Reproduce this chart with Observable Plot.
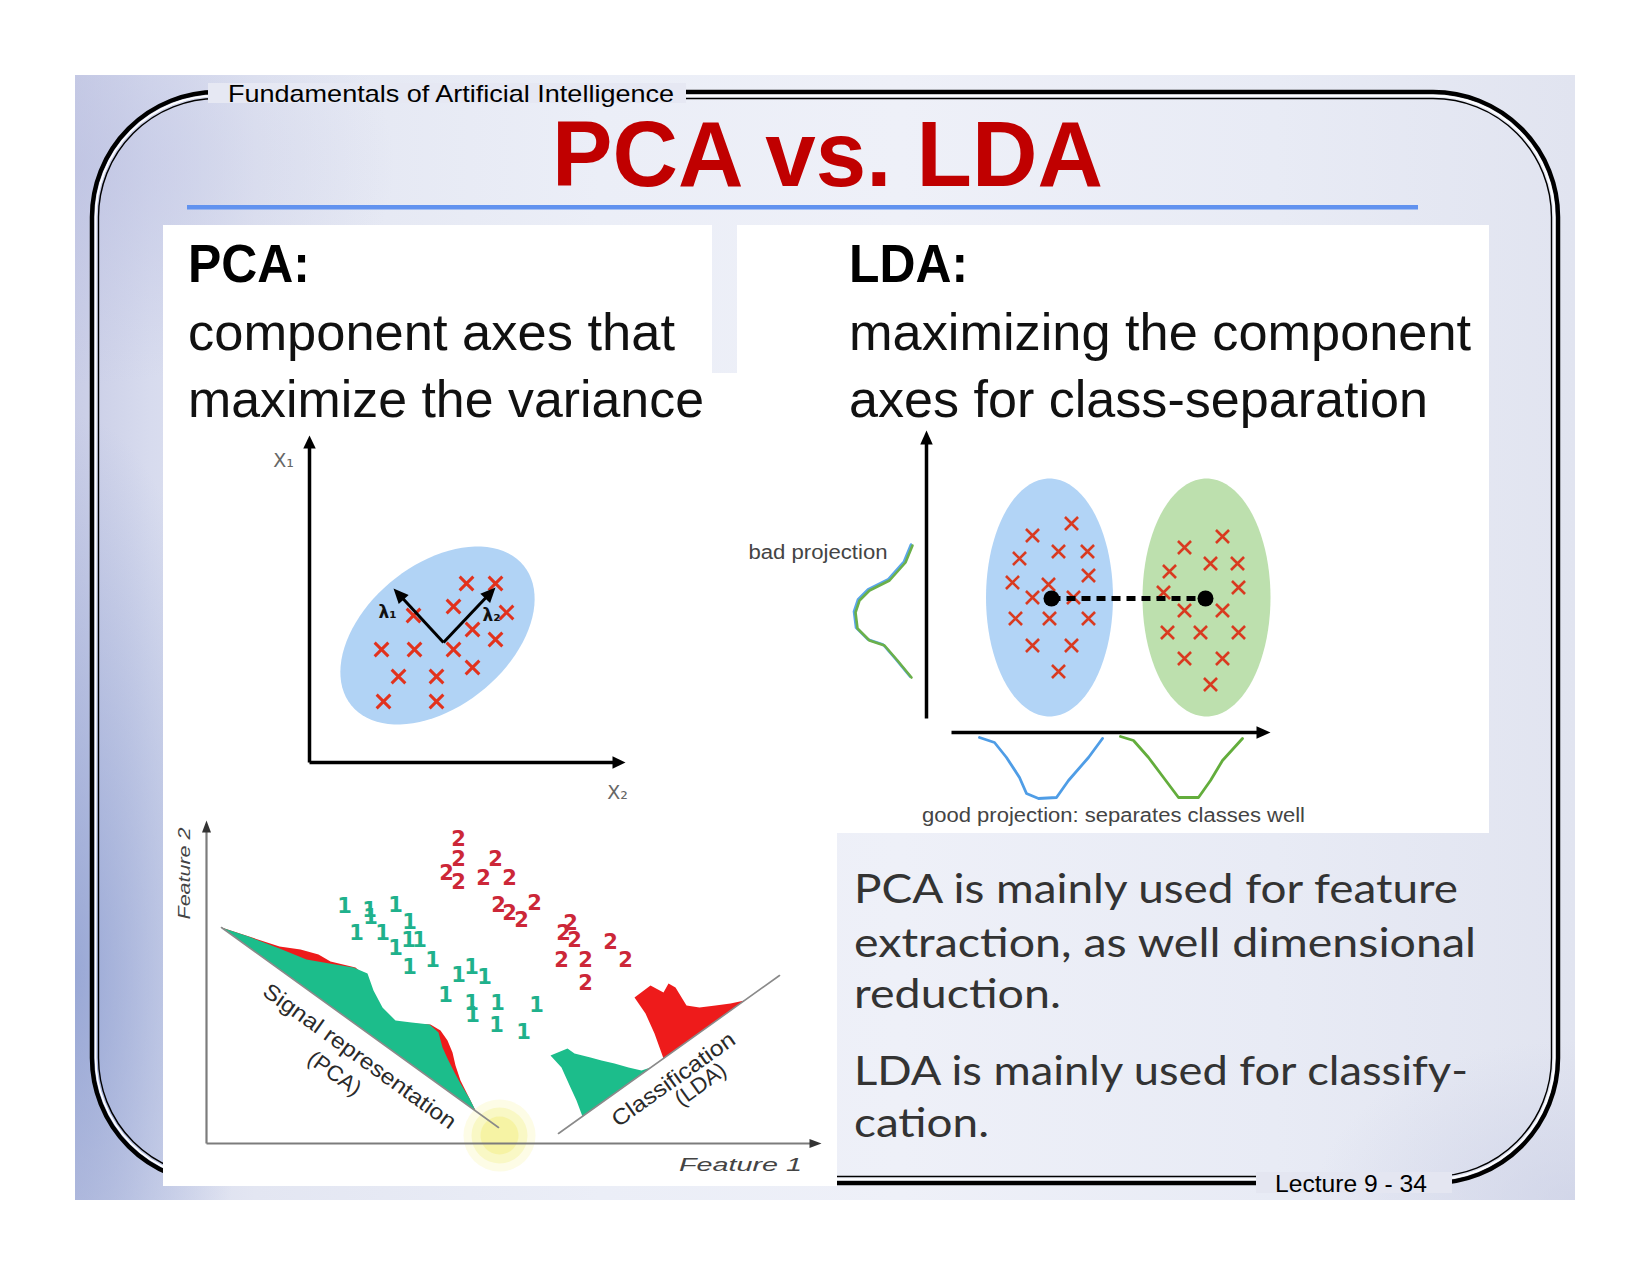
<!DOCTYPE html>
<html>
<head>
<meta charset="utf-8">
<script src="https://cdn.jsdelivr.net/npm/d3@7"></script>
<script src="https://cdn.jsdelivr.net/npm/@observablehq/plot@0.6"></script>
<style>
  html, body { margin:0; padding:0; background:#ffffff; }
  #page { position:relative; width:1650px; height:1275px; overflow:hidden; background:#ffffff; }
  #slide { position:absolute; left:75px; top:75px; width:1500px; height:1125px;
    background:
      radial-gradient(ellipse 170px 560px at 0% 80%, rgba(138,156,208,0.75), rgba(138,156,208,0) 100%),
      radial-gradient(ellipse 320px 220px at 0% 8%, rgba(188,193,226,0.6), rgba(188,193,226,0) 100%),
      radial-gradient(ellipse 260px 160px at 100% 100%, rgba(200,205,228,0.6), rgba(200,205,228,0) 100%),
      linear-gradient(90deg, #c9cde6 0%, #d7dbee 5%, #e3e6f2 12%, #ebeef7 35%, #eef0f8 55%, #e8ebf5 80%, #e1e4f0 100%); }
  .panel { position:absolute; background:#ffffff; }
  .layer { position:absolute; left:0; top:0; }
</style>
</head>
<body>
<div id="page"><div id="slide"></div></div>
<script>
// ===================== DATA =====================
// --- PCA sketch: samples in (x2, x1) units, origin at the axes corner
const pcaSamples = [[15.7,17.9],[18.6,17.9],[14.4,15.6],[19.7,15.0],[10.4,14.7],[16.3,13.3],[18.6,12.3],
  [7.2,11.3],[10.5,11.3],[14.4,11.3],[8.9,8.6],[12.7,8.6],[16.3,9.5],[7.4,6.1],[12.7,6.1]];
const pcaCloud = {cx:12.8, cy:12.7, rx:11.1, ry:7.1, angle:39};
const pcaOrigin = [13.4, 12.0];
const pcaComponentNames = ["λ₁", "λ₂"];
const pcaComponentTips = [[8.4,17.4],[18.6,17.5]];
const pcaComponentLabelPos = [[7.8,15.0],[18.2,14.7]];
const pcaAxisEnds = [[31.6,0],[0,32.7]];
const pcaAxisNames = ["X₂", "X₁"];
const pcaAxisNamePos = [[30.8,-3.0],[-2.6,30.2]];

// --- LDA sketch
const ldaClassA = [[14.5,20.9],[10.6,19.7],[13.2,18.1],[16.1,18.1],[9.3,17.4],[16.2,15.7],[8.6,15.0],[12.2,14.8],
  [10.6,13.5],[14.7,13.5],[8.9,11.4],[12.3,11.4],[16.2,11.4],[10.6,8.7],[14.5,8.7],[13.2,6.1]];
const ldaClassB = [[29.6,19.6],[25.8,18.5],[28.4,16.9],[31.1,16.9],[24.3,16.1],[31.2,14.5],[23.7,14.0],[25.8,12.2],
  [29.6,12.2],[24.1,10.0],[27.4,10.0],[31.2,10.0],[25.8,7.4],[29.6,7.4],[28.4,4.8]];
const ldaClouds = [{cx:12.3, cy:13.5, rx:6.35, ry:11.9, angle:0}, {cx:28.0, cy:13.5, rx:6.4, ry:11.9, angle:0}];
const ldaMeans = [[12.5,13.4],[27.9,13.4]];
const ldaYAxis = [[0,1.4],[0,30.2]];
const ldaXAxis = [[2.5,0],[34.4,0]];
const badProjection = [[-1.4,18.7],[-2.1,17.0],[-3.7,15.2],[-5.7,14.2],[-6.7,13.2],[-7.1,12.0],[-6.9,10.4],
  [-5.7,9.2],[-4.2,8.7],[-2.9,7.2],[-1.5,5.5]];
const goodProjectionA = [[5.3,-0.5],[6.8,-1.0],[8.0,-2.5],[9.3,-4.5],[10.0,-6.1],[11.2,-6.6],[13.0,-6.5],
  [14.2,-4.8],[16.2,-2.5],[17.6,-0.6]];
const goodProjectionB = [[19.4,-0.4],[20.7,-0.8],[22.2,-2.5],[23.7,-4.5],[25.2,-6.5],[27.2,-6.5],[28.4,-4.8],
  [29.6,-2.8],[31.6,-0.6]];
const ldaTexts = ["bad projection", "good projection: separates classes well"];
const ldaTextPos = [[-3.9,18.0],[18.7,-8.3]];

// --- Feature 1 / Feature 2 figure
const featureOnes = [[13.8,23.7],[16.3,23.3],[18.9,23.8],[16.4,22.6],[20.3,22.1],[15.0,21.0],[17.6,21.0],
  [20.2,20.3],[21.3,20.3],[18.9,19.5],[20.3,17.6],[22.6,18.3],[25.2,16.8],[26.5,17.6],[27.8,16.6],
  [23.9,14.8],[26.5,14.0],[29.1,14.0],[33.0,13.8],[26.6,12.8],[29.0,11.8],[31.7,11.1]];
const featureTwos = [[25.2,30.4],[25.2,28.4],[28.9,28.4],[24.0,27.0],[25.2,26.1],[27.7,26.5],[30.3,26.5],
  [29.2,23.8],[30.3,23.0],[31.5,22.3],[32.8,24.0],[36.4,22.0],[35.7,21.0],[36.8,20.3],[40.4,20.1],
  [35.5,18.3],[37.9,18.3],[41.9,18.3],[37.9,16.0]];
const pcaDirection = [[1.5,21.6],[29.2,1.6]];
const ldaDirection = [[35.2,1.0],[57.3,16.8]];
const pcaDensity1 = [[1.5,21.6],[4.2,20.7],[7.3,19.5],[10.0,18.4],[12.3,18.0],[14.7,17.6],[16.1,17.0],[16.7,15.3],
  [17.6,13.6],[18.9,12.3],[20.5,12.1],[22.3,11.9],[23.2,11.1],[23.6,9.6],[24.1,8.5],[24.8,7.1],[25.4,6.0],
  [26.3,4.5],[26.9,3.3]];
const pcaDensity2 = [[1.5,21.6],[7.3,19.7],[9.4,19.4],[11.2,18.9],[12.4,18.2],[14.9,17.6],[15.8,16.8],[16.0,15.3],
  [16.4,13.8],[17.2,12.8],[18.6,12.1],[22.4,11.9],[23.4,11.3],[24.1,10.3],[24.6,9.1],[24.9,7.8],[25.4,6.3],
  [26.4,4.3],[26.9,3.3]];
const ldaDensity1 = [[34.4,8.8],[36.1,9.5],[36.8,9.0],[38.4,8.6],[39.5,8.3],[40.8,8.0],[42.2,7.6],[43.5,7.3],
  [44.4,7.6],[37.6,2.7],[37.0,4.3],[36.4,5.6],[35.5,7.6]];
const ldaDensity2 = [[42.8,14.6],[44.4,15.8],[45.7,15.1],[46.2,16.0],[46.9,15.6],[48.0,13.8],[49.3,13.6],
  [50.9,13.8],[52.4,14.0],[53.8,14.3],[45.7,8.5],[44.8,11.0],[43.9,13.0]];
const featureAxisEnds = [[61.5,0],[0,32.3]];
const featureAxisNames = ["Feature 1", "Feature 2"];
const featureAxisNamePos = [[53.4,-2.2],[-2.2,27.0]];
const featureLabels = ["Signal representation", "(PCA)", "Classification", "(LDA)"];
const featureLabelPos = [[15.3,8.7],[12.8,7.0],[46.7,6.4],[49.4,5.9]];
const featureLabelAngle = [35.8, 35.8, -35.6, -35.6];
const pointerSpot = [29.3, 0.8];

// --- slide texts
const slideText = ["Fundamentals of Artificial Intelligence", "PCA vs. LDA", "PCA:", "component axes that",
  "maximize the variance", "LDA:", "maximizing the component", "axes for class-separation",
  "PCA is mainly used for feature", "extraction, as well dimensional", "reduction.",
  "LDA is mainly used for classify-", "cation.", "Lecture 9 - 34"];

// ===================== LAYOUT / STYLE =====================
const W = 1650, H = 1275;
const SANS = "'Liberation Sans', Arial, Helvetica, sans-serif";
const BODY = "Lato, 'Open Sans', sans-serif";
const slideTextLayout = [
  {x:228, y:102, size:24, len:446, fill:"#000", weight:400, family:SANS},
  {x:552, y:186, size:92, len:551, fill:"#c00000", weight:700, family:SANS},
  {x:188, y:282, size:54, len:122, fill:"#000", weight:700, family:SANS},
  {x:188, y:350, size:52, len:487, fill:"#111", weight:400, family:SANS},
  {x:188, y:417, size:52, len:516, fill:"#111", weight:400, family:SANS},
  {x:849, y:282, size:54, len:119, fill:"#000", weight:700, family:SANS},
  {x:849, y:350, size:52, len:622, fill:"#111", weight:400, family:SANS},
  {x:849, y:417, size:52, len:579, fill:"#111", weight:400, family:SANS},
  {x:854, y:903, size:41, len:604, fill:"#333", weight:400, family:BODY},
  {x:854, y:957, size:41, len:622, fill:"#333", weight:400, family:BODY},
  {x:854, y:1008, size:41, len:207, fill:"#333", weight:400, family:BODY},
  {x:854, y:1085, size:41, len:614, fill:"#333", weight:400, family:BODY},
  {x:854, y:1137, size:41, len:135, fill:"#333", weight:400, family:BODY},
  {x:1275, y:1192, size:24, len:152, fill:"#000", weight:400, family:SANS}
];

const page = document.getElementById("page");

// ---- frame (decoration)
const frame = d3.create("svg").attr("class","layer").attr("width",W).attr("height",H);
frame.append("rect").attr("x",92).attr("y",92).attr("width",1466).attr("height",1091).attr("rx",125)
  .attr("fill","none").attr("stroke","#000").attr("stroke-width",4.5);
frame.append("rect").attr("x",95.6).attr("y",95.6).attr("width",1458.8).attr("height",1083.8).attr("rx",121.4)
  .attr("fill","none").attr("stroke","#fff").attr("stroke-width",1.8);
frame.append("rect").attr("x",98.5).attr("y",98.5).attr("width",1453).attr("height",1078).attr("rx",118.5)
  .attr("fill","none").attr("stroke","#000").attr("stroke-width",1.4);
frame.append("rect").attr("x",208).attr("y",83).attr("width",478).attr("height",20).attr("fill","#e6e8f3");
frame.append("rect").attr("x",1256).attr("y",1172).attr("width",196).attr("height",21).attr("fill","#e4e6f1");
page.append(frame.node());

// ---- white image panels
[[163,225,549,590],[712,373,26,440],[163,810,674,376],[737,225,752,608]].forEach(([l,t,w,h]) => {
  const d = document.createElement("div");
  d.className = "panel";
  Object.assign(d.style, {left:l+"px", top:t+"px", width:w+"px", height:h+"px"});
  page.append(d);
});

// ---- helpers
const P = d => ({x: d[0], y: d[1]});
function ellipsePoints(c, n = 90) {
  const a = c.angle * Math.PI / 180;
  return d3.range(n + 1).map(i => {
    const t = 2 * Math.PI * i / n, ex = c.rx * Math.cos(t), ey = c.ry * Math.sin(t);
    return {x: c.cx + ex * Math.cos(a) - ey * Math.sin(a), y: c.cy + ex * Math.sin(a) + ey * Math.cos(a)};
  });
}
function arrowParts(from, to, headLen, headWid, id) {
  const dx = to[0] - from[0], dy = to[1] - from[1], L = Math.hypot(dx, dy);
  const ux = dx / L, uy = dy / L, bx = to[0] - ux * headLen, by = to[1] - uy * headLen;
  const px = -uy * headWid / 2, py = ux * headWid / 2;
  return {
    shaft: {x1: from[0], y1: from[1], x2: to[0] - ux * headLen * 0.6, y2: to[1] - uy * headLen * 0.6},
    head: [{id, x: to[0], y: to[1]}, {id, x: bx + px, y: by + py}, {id, x: bx - px, y: by - py}, {id, x: to[0], y: to[1]}]
  };
}
function arrowMarks(list, stroke, strokeWidth, fill) {
  return [
    Plot.link(list.map(a => a.shaft), {x1:"x1", y1:"y1", x2:"x2", y2:"y2", stroke, strokeWidth, strokeLinecap:"butt"}),
    Plot.line(list.flatMap(a => a.head), {x:"x", y:"y", z:"id", fill, stroke:"none"})
  ];
}
function place(svg, left, top) {
  svg.style.position = "absolute";
  svg.style.left = left + "px";
  svg.style.top = top + "px";
  page.append(svg);
  return svg;
}
function fitTexts(svg, lengths) {
  svg.querySelectorAll("text").forEach(t => {
    const k = t.textContent;
    if (lengths[k]) { t.setAttribute("textLength", lengths[k]); t.setAttribute("lengthAdjust", "spacingAndGlyphs"); }
  });
}
function base(width, height, xd, yd, marks) {
  return Plot.plot({
    width, height, marginTop:0, marginRight:0, marginBottom:0, marginLeft:0,
    x: {domain: xd, axis: null}, y: {domain: yd, axis: null},
    style: {background:"transparent", overflow:"visible", fontFamily: SANS},
    marks
  });
}

// ---- PCA sketch
{
  const axes = pcaAxisEnds.map((e, i) => arrowParts([0,0], e, 1.3, 1.25, "a" + i));
  const comps = pcaComponentTips.map((t, i) => arrowParts(pcaOrigin, t, 1.5, 1.35, "c" + i));
  const svg = base(520, 390, [-15.4, 36.6], [-4.8, 34.2], [
    Plot.line(ellipsePoints(pcaCloud), {x:"x", y:"y", fill:"#b1d3f5", stroke:"none"}),
    Plot.dot(pcaSamples, {x: d => d[0], y: d => d[1], symbol:"times", r:6.3, stroke:"#e2321d", strokeWidth:3}),
    ...arrowMarks(comps, "#000", 3, "#000"),
    ...arrowMarks(axes, "#000", 3.5, "#000"),
    Plot.text(pcaComponentNames, {x: (d, i) => pcaComponentLabelPos[i][0], y: (d, i) => pcaComponentLabelPos[i][1],
      text: d => d, fontSize: 17, fontWeight: "bold", fill: "#111", fontFamily: "'DejaVu Sans', sans-serif"}),
    Plot.text(pcaAxisNames, {x: (d, i) => pcaAxisNamePos[i][0], y: (d, i) => pcaAxisNamePos[i][1],
      text: d => d, fontSize: 19, fill: "#666", fontFamily: "'DejaVu Sans', sans-serif"})
  ]);
  place(svg, 155, 420);
}

// ---- LDA sketch
{
  const axes = [arrowParts(ldaXAxis[0], ldaXAxis[1], 1.4, 1.25, "x"), arrowParts(ldaYAxis[0], ldaYAxis[1], 1.4, 1.25, "y")];
  const svg = base(700, 410, [-20.6, 49.4], [-9.8, 31.2], [
    Plot.line(ellipsePoints(ldaClouds[0]), {x:"x", y:"y", fill:"#b2d4f6", stroke:"none"}),
    Plot.line(ellipsePoints(ldaClouds[1]), {x:"x", y:"y", fill:"#bde0ae", stroke:"none"}),
    Plot.dot(ldaClassA, {x: d => d[0], y: d => d[1], symbol:"times", r:6, stroke:"#d93a20", strokeWidth:2.6}),
    Plot.dot(ldaClassB, {x: d => d[0], y: d => d[1], symbol:"times", r:6, stroke:"#d93a20", strokeWidth:2.6}),
    Plot.link([ldaMeans], {x1: d => d[0][0], y1: d => d[0][1], x2: d => d[1][0], y2: d => d[1][1],
      stroke:"#000", strokeWidth:5, strokeDasharray:"9,6"}),
    Plot.dot(ldaMeans, {x: d => d[0], y: d => d[1], r:8, fill:"#000"}),
    ...arrowMarks(axes, "#000", 3.5, "#000"),
    Plot.line(badProjection.map(P), {x:"x", y:"y", stroke:"#5aa6ea", strokeWidth:2.6, dx:-1.5, dy:-1}),
    Plot.line(badProjection.map(P), {x:"x", y:"y", stroke:"#6bb04a", strokeWidth:2.6}),
    Plot.line(goodProjectionA.map(P), {x:"x", y:"y", stroke:"#4f9de6", strokeWidth:2.8}),
    Plot.line(goodProjectionB.map(P), {x:"x", y:"y", stroke:"#63ad3c", strokeWidth:2.8}),
    Plot.text([ldaTexts[0]], {x: ldaTextPos[0][0], y: ldaTextPos[0][1], text: d => d, textAnchor:"end", fontSize:20, fill:"#444"}),
    Plot.text([ldaTexts[1]], {x: ldaTextPos[1][0], y: ldaTextPos[1][1], text: d => d, fontSize:20, fill:"#444"})
  ]);
  fitTexts(svg, {"bad projection": 139, "good projection: separates classes well": 383});
  place(svg, 720, 420);
}

// ---- Feature 1 / Feature 2 figure
{
  const axes = featureAxisEnds.map((e, i) => arrowParts([0,0], e, 1.2, 0.9, "f" + i));
  const svg = base(674, 376, [-4.3, 63.1], [-4.3, 33.3], [
    Plot.dot([pointerSpot], {x: d => d[0], y: d => d[1], r:36, fill:"#f6f29a", fillOpacity:0.25}),
    Plot.dot([pointerSpot], {x: d => d[0], y: d => d[1], r:28, fill:"#f3ee7c", fillOpacity:0.3}),
    Plot.dot([pointerSpot], {x: d => d[0], y: d => d[1], r:19, fill:"#f0ea66", fillOpacity:0.35}),
    Plot.line(pcaDensity2.map(P), {x:"x", y:"y", fill:"#ee1b1b", stroke:"none"}),
    Plot.line(pcaDensity1.map(P), {x:"x", y:"y", fill:"#1cbd8b", stroke:"none"}),
    Plot.line(ldaDensity1.map(P), {x:"x", y:"y", fill:"#1cbd8b", stroke:"none"}),
    Plot.line(ldaDensity2.map(P), {x:"x", y:"y", fill:"#ee1b1b", stroke:"none"}),
    Plot.line(pcaDirection.map(P), {x:"x", y:"y", stroke:"#8a8a8a", strokeWidth:1.6}),
    Plot.line(ldaDirection.map(P), {x:"x", y:"y", stroke:"#8a8a8a", strokeWidth:1.6}),
    ...arrowMarks(axes, "#7c7c7c", 2.2, "#333"),
    Plot.text(featureOnes, {x: d => d[0], y: d => d[1], text: () => "1", fontSize:21, fontWeight:"bold",
      fontFamily:"'DejaVu Sans', sans-serif", fill:"#1fb18c"}),
    Plot.text(featureTwos, {x: d => d[0], y: d => d[1], text: () => "2", fontSize:21, fontWeight:"bold",
      fontFamily:"'DejaVu Sans', sans-serif", fill:"#cc2738"}),
    Plot.text(featureLabels, {x: (d, i) => featureLabelPos[i][0], y: (d, i) => featureLabelPos[i][1],
      text: d => d, rotate: (d, i) => featureLabelAngle[i], fontSize:22, fill:"#2a2a2a"}),
    Plot.text([featureAxisNames[0]], {x: featureAxisNamePos[0][0], y: featureAxisNamePos[0][1], text: d => d,
      fontSize:18, fontStyle:"italic", fill:"#444"}),
    Plot.text([featureAxisNames[1]], {x: featureAxisNamePos[1][0], y: featureAxisNamePos[1][1], text: d => d,
      rotate:-90, fontSize:17, fontStyle:"italic", fill:"#444"})
  ]);
  fitTexts(svg, {"Feature 1": 123, "Feature 2": 92, "Signal representation": 232, "Classification": 146});
  place(svg, 163, 810);
}

// ---- slide texts (overlay)
{
  const over = d3.create("svg").attr("class","layer").attr("width",W).attr("height",H).style("pointer-events","none");
  slideText.forEach((s, i) => {
    const L = slideTextLayout[i];
    over.append("text").attr("x", L.x).attr("y", L.y).attr("font-size", L.size).attr("font-family", L.family)
      .attr("font-weight", L.weight).attr("fill", L.fill).attr("textLength", L.len)
      .attr("lengthAdjust", "spacingAndGlyphs").text(s);
  });
  over.append("rect").attr("x",187).attr("y",205).attr("width",1231).attr("height",4.5).attr("fill","#6192ef");
  page.append(over.node());
}
</script>
</body>
</html>
